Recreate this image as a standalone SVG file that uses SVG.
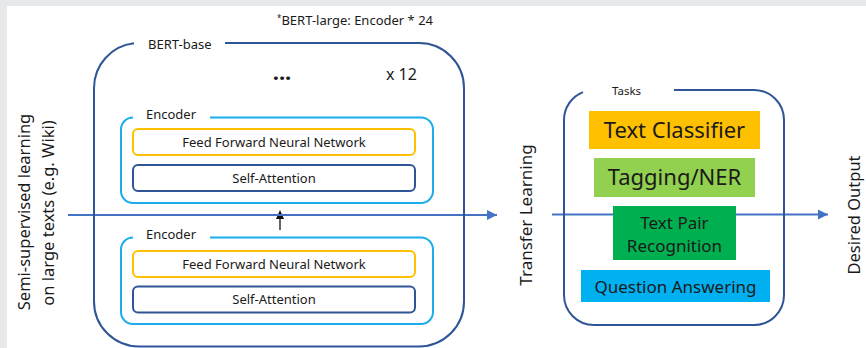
<svg xmlns="http://www.w3.org/2000/svg" width="866" height="348" viewBox="0 0 866 348">
<style>
text{font-family:"Noto Sans","DejaVu Sans",sans-serif;fill:#1a1a1a}
.big{fill:none;stroke:#2F5597;stroke-width:2}
.enc{fill:none;stroke:#1BADEB;stroke-width:2}
.ffn{fill:#fff;stroke:#FFC000;stroke-width:2}
.sa{fill:#fff;stroke:#2F5597;stroke-width:2}
.lbl{font-size:13px}
.inner{font-size:13px;text-anchor:middle}
.task{text-anchor:middle}
.side{text-anchor:middle}
.conn{stroke:#4472C4;stroke-width:2;fill:none}
</style>
<defs>
<marker id="ah" markerUnits="userSpaceOnUse" markerWidth="12" markerHeight="12" refX="10" refY="6" orient="auto">
<path d="M0,1 L10,6 L0,11 Z" fill="#4472C4"/>
</marker>
</defs>
<rect x="0" y="0" width="866" height="348" fill="#fff"/>
<rect x="0" y="0" width="866" height="6" fill="#E7E8EA"/>
<rect x="0" y="0" width="7" height="348" fill="#E7E8EA"/>

<text x="355" y="25" text-anchor="middle" font-size="13"><tspan font-size="8" dy="-4">*</tspan><tspan dy="4">BERT-large: Encoder * 24</tspan></text>

<text x="30" y="212" class="side" font-size="16.5" transform="rotate(-90 30 212)">Semi-supervised learning</text>
<text x="54" y="213" class="side" font-size="16.5" transform="rotate(-90 54 213)">on large texts (e.g. Wiki)</text>
<text x="532" y="215" class="side" font-size="17" transform="rotate(-90 532 215)">Transfer Learning</text>
<text x="860" y="215" class="side" font-size="16.5" transform="rotate(-90 860 215)">Desired Output</text>

<g id="connectors">
<line x1="280" y1="230" x2="280" y2="218" stroke="#111" stroke-width="1.3"/>
<path d="M280,210 L276,219 L284,219 Z" fill="#111"/>
<path class="conn" d="M68,215 H497" marker-end="url(#ah)"/>
<path class="conn" d="M552,214.5 H828" marker-end="url(#ah)"/>
</g>

<g id="bert-base">
<path class="big" d="M225,43 H419 A45,45 0 0 1 464,88 V301.5 A45,45 0 0 1 419,346.5 H139 A45,45 0 0 1 94,301.5 V88 A45,45 0 0 1 134,43.3"/>
<text x="148" y="49" class="lbl">BERT-base</text>
<text x="282" y="80" text-anchor="middle" font-size="22" font-weight="bold">...</text>
<text x="386" y="80" font-size="16">x 12</text>
</g>

<g id="encoder-1">
<path class="enc" d="M210,117.5 H421 A12,12 0 0 1 433,129.5 V191 A12,12 0 0 1 421,203 H133 A12,12 0 0 1 121,191 V129.5 A12,12 0 0 1 133,117.5"/>
<text x="146" y="119" class="lbl">Encoder</text>
</g>
<g id="ffnn-1">
<rect class="ffn" x="133" y="129" width="282" height="26" rx="5"/>
<text x="274" y="146.5" class="inner">Feed Forward Neural Network</text>
</g>
<g id="sa-1">
<rect class="sa" x="133" y="165" width="282" height="26" rx="5"/>
<text x="274" y="182.5" class="inner">Self-Attention</text>
</g>

<g id="encoder-2">
<path class="enc" d="M210,237.5 H421 A12,12 0 0 1 433,249.5 V312 A12,12 0 0 1 421,324 H133 A12,12 0 0 1 121,312 V249.5 A12,12 0 0 1 133,237.5"/>
<text x="146" y="239" class="lbl">Encoder</text>
</g>
<g id="ffnn-2">
<rect class="ffn" x="133" y="251" width="282" height="26" rx="5"/>
<text x="274" y="268.5" class="inner">Feed Forward Neural Network</text>
</g>
<g id="sa-2">
<rect class="sa" x="133" y="286.5" width="282" height="26" rx="5"/>
<text x="274" y="304" class="inner">Self-Attention</text>
</g>

<g id="tasks">
<path class="big" d="M674,90 H754 A30,30 0 0 1 784,120 V295 A30,30 0 0 1 754,325 H594 A30,30 0 0 1 564,295 V120 A30,30 0 0 1 583,92.1"/>
<text x="612" y="95" font-size="11.5">Tasks</text>
</g>
<g id="text-classifier">
<rect x="589" y="111" width="171" height="38" fill="#FFC000"/>
<text x="674.5" y="138" class="task" font-size="22">Text Classifier</text>
</g>
<g id="tagging-ner">
<rect x="594" y="158" width="161" height="39" fill="#92D050"/>
<text x="674.5" y="185" class="task" font-size="22">Tagging/NER</text>
</g>
<g id="text-pair">
<rect x="613" y="206" width="123" height="54" fill="#00B050"/>
<text x="674.5" y="228.5" class="task" font-size="17">Text Pair</text>
<text x="674.5" y="251.5" class="task" font-size="17">Recognition</text>
</g>
<g id="question-answering">
<rect x="581" y="270" width="189" height="32" fill="#00B0F0"/>
<text x="675.5" y="292.5" class="task" font-size="17">Question Answering</text>
</g>
</svg>
